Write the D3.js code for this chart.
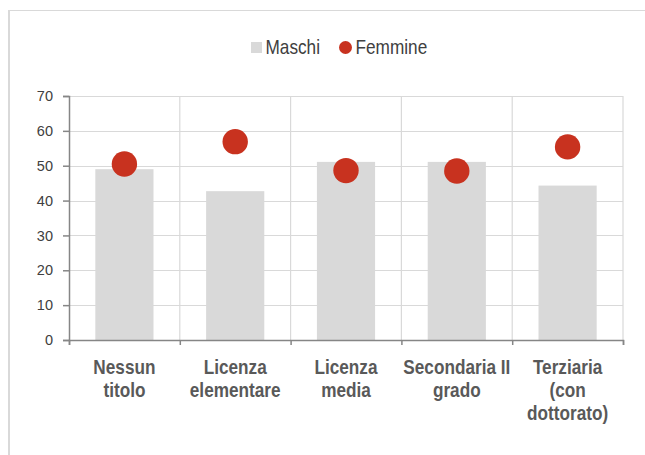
<!DOCTYPE html>
<html>
<head>
<meta charset="utf-8">
<script src="https://cdn.jsdelivr.net/npm/d3@7"></script>
<style>
  html, body { margin: 0; padding: 0; background: #fff; }
  svg { display: block; }
  text { font-family: "Liberation Sans", Arial, sans-serif; }
</style>
</head>
<body>
<svg id="chart" width="645" height="455"></svg>
<script>
const categories = [["Nessun", "titolo"], ["Licenza", "elementare"], ["Licenza", "media"], ["Secondaria II", "grado"], ["Terziaria", "(con", "dottorato)"]];
const maschi = [49.0, 42.7, 51.1, 51.1, 44.3];
const femmine = [50.5, 56.9, 48.6, 48.5, 55.4];
const seriesNames = ["Maschi", "Femmine"];
const yTicks = [0, 10, 20, 30, 40, 50, 60, 70];

const svg = d3.select("#chart");
const W = 645, H = 455;
const m = { left: 69, right: 623, top: 96, bottom: 340 };
const barColor = "#d9d9d9", dotColor = "#c8321f", gridColor = "#d9d9d9", axisColor = "#868686";
const SX = 0.82;   // legend condensing
const SXL = 0.86;  // category label condensing

// frame
svg.append("line").attr("x1", 9).attr("x2", 9).attr("y1", 10).attr("y2", H).attr("stroke", "#d9d9d9").attr("stroke-width", 2);
svg.append("line").attr("x1", 8).attr("x2", 645).attr("y1", 10.5).attr("y2", 10.5).attr("stroke", "#d9d9d9").attr("stroke-width", 1.2);

const idx = categories.map((d, i) => i);
const x = d3.scaleBand().domain(idx).range([m.left, m.right]).paddingInner(0.475).paddingOuter(0.2375);
const y = d3.scaleLinear().domain([0, 70]).range([m.bottom, m.top]);

// horizontal grid
svg.append("g").selectAll("line").data(yTicks.filter(t => t > 0)).join("line")
  .attr("x1", m.left).attr("x2", m.right)
  .attr("y1", d => Math.round(y(d)) + 0.5).attr("y2", d => Math.round(y(d)) + 0.5)
  .attr("stroke", gridColor).attr("stroke-width", 1.2);
// vertical grid at category boundaries
const step = x.step();
const bounds = idx.map(i => m.left + (i + 1) * step);
svg.append("g").selectAll("line").data(bounds).join("line")
  .attr("x1", d => d).attr("x2", d => d)
  .attr("y1", m.top).attr("y2", m.bottom)
  .attr("stroke", gridColor).attr("stroke-width", 1.2);

// bars
svg.append("g").selectAll("rect").data(maschi).join("rect")
  .attr("x", (d, i) => x(i)).attr("width", x.bandwidth())
  .attr("y", d => y(d)).attr("height", d => y(0) - y(d))
  .attr("fill", barColor);

// dots
svg.append("g").selectAll("circle").data(femmine).join("circle")
  .attr("cx", (d, i) => x(i) + x.bandwidth() / 2).attr("cy", d => y(d)).attr("r", 12.7)
  .attr("fill", dotColor);

// y axis
const yAxis = d3.axisLeft(y).tickValues(yTicks).tickSize(6).tickPadding(10).tickFormat(d3.format("d"));
const gy = svg.append("g").attr("transform", `translate(${m.left},0)`).call(yAxis);
gy.attr("font-family", null).attr("font-size", null);
gy.select(".domain").attr("stroke", axisColor).attr("stroke-width", 1.5);
gy.selectAll(".tick line").attr("stroke", axisColor).attr("stroke-width", 1.5);
gy.selectAll(".tick text").attr("fill", "#404040").style("font-size", "14.5px");

// x axis
const xb = d3.scaleLinear().domain([0, categories.length]).range([m.left, m.right]);
const xAxis = d3.axisBottom(xb).tickValues(d3.range(0, categories.length + 1)).tickSize(5).tickFormat("");
const gx = svg.append("g").attr("transform", `translate(0,${m.bottom})`).call(xAxis);
gx.select(".domain").attr("stroke", axisColor).attr("stroke-width", 1.5);
gx.selectAll(".tick line").attr("stroke", axisColor).attr("stroke-width", 1.5);

// category labels
const lab = svg.append("g").attr("font-weight", "bold").attr("font-size", "20px").attr("fill", "#595959").attr("text-anchor", "middle");
categories.forEach((lines, i) => {
  const cx = x(i) + x.bandwidth() / 2;
  const t = lab.append("text").attr("transform", `translate(${cx},374) scale(${SXL},1)`);
  lines.forEach((l, j) => t.append("tspan").attr("x", 0).attr("y", j * 23).text(l));
});

// legend
const lg = svg.append("g").attr("font-size", "21px").attr("fill", "#404040");
lg.append("rect").attr("x", 251).attr("y", 42).attr("width", 11).attr("height", 11).attr("fill", barColor);
lg.append("text").attr("transform", `translate(265.5,54) scale(${SX},1)`).text(seriesNames[0]);
lg.append("circle").attr("cx", 345.5).attr("cy", 47.5).attr("r", 6.5).attr("fill", dotColor);
lg.append("text").attr("transform", `translate(355.5,54) scale(${SX},1)`).text(seriesNames[1]);
</script>
</body>
</html>
